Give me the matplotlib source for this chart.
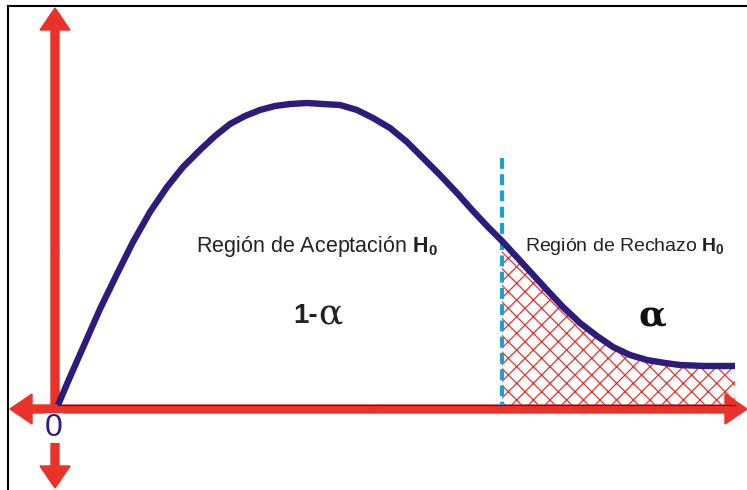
import matplotlib.pyplot as plt
import numpy as np

plt.rcParams['mathtext.fontset'] = 'custom'
plt.rcParams['mathtext.rm'] = 'Liberation Sans'
plt.rcParams['mathtext.bf'] = 'Liberation Sans:bold'
plt.rcParams['hatch.linewidth'] = 0.9
plt.rcParams['hatch.color'] = '#ee4a3a'

# curve (pixel coords, y grows downward)
curve_x = [58, 70, 85, 100, 117, 133, 150, 167, 183, 200, 215, 230, 245, 260, 275,
           290, 307, 323, 340, 357, 373, 390, 407, 423, 440, 457, 473, 488, 502,
           525, 547, 563, 580, 597, 613, 630, 647, 665, 680, 705, 735]
curve_y = [405, 377, 343, 309, 274, 242, 212, 187, 167, 150, 136, 124, 116, 110, 106,
           104, 103, 104, 105, 110, 118, 128, 142, 158, 175, 193, 211, 227, 241,
           266, 290, 307, 323, 336, 347, 355, 360, 363, 365, 366, 366]
crit_x = 502
base_y = 406
labels = ['Región de Aceptación $\\mathbf{H_0}$', 'Región de Rechazo $\\mathbf{H_0}$']

red = '#e8322a'
purple = '#2e1c7c'
blue = '#1aa0d8'

fig = plt.figure(figsize=(7.47, 4.90), dpi=100)
ax = fig.add_axes([0, 0, 1, 1])
ax.set_xlim(0, 747)
ax.set_ylim(490, 0)
ax.axis('off')

cx = np.array(curve_x)
cy = np.array(curve_y)

# rejection region, hatched
m = cx >= crit_x
ax.fill_between(cx[m], cy[m], base_y, facecolor='none', hatch='xx',
                edgecolor=red, linewidth=0)

# axes arrows
kw = dict(width=8, head_width=30, head_length=22, length_includes_head=True,
          color=red, zorder=3)
ax.arrow(380, 409, 367, 0, **kw)
ax.arrow(380, 409, -370, 0, **kw)
ax.arrow(55, 250, 0, -242, **kw)
ax.arrow(55, 250, 0, 238, **kw)
ax.plot([58, 735], [405, 405], color=purple, lw=0.8, zorder=4)

# critical value
ax.plot([crit_x, crit_x], [158, 405], color=blue, lw=3, ls=(0, (2.6, 1.3)), zorder=5)

# curve
ax.plot(cx, cy, color=purple, lw=4.6, solid_capstyle='butt',
        solid_joinstyle='round', zorder=6)

# frame lines (left and top)
ax.plot([8, 8], [490, 6], color='black', lw=1.5)
ax.plot([8, 747], [6, 6], color='black', lw=1.5)

ax.text(317, 246, labels[0], fontsize=15.5, family='Liberation Sans',
        color='#222222', ha='center', va='center')
ax.text(625, 246, labels[1], fontsize=14, family='Liberation Sans',
        color='#222222', ha='center', va='center')
ax.text(318, 316, '1-', fontsize=20, family='Liberation Sans', fontweight='bold',
        color='#222222', ha='right', va='center')
ax.text(318, 314, 'α', fontsize=26, family='DejaVu Serif',
        color='#222222', ha='left', va='center')
ax.text(652, 316, 'α', fontsize=26, family='DejaVu Serif', fontweight='bold',
        color='#111111', ha='center', va='center')
ax.text(54, 428, '0', fontsize=23, family='Liberation Sans', color=purple,
        ha='center', va='center', zorder=7,
        bbox=dict(boxstyle='square,pad=0.0', fc='white', ec='none'))

fig.savefig('out.png', dpi=100)
